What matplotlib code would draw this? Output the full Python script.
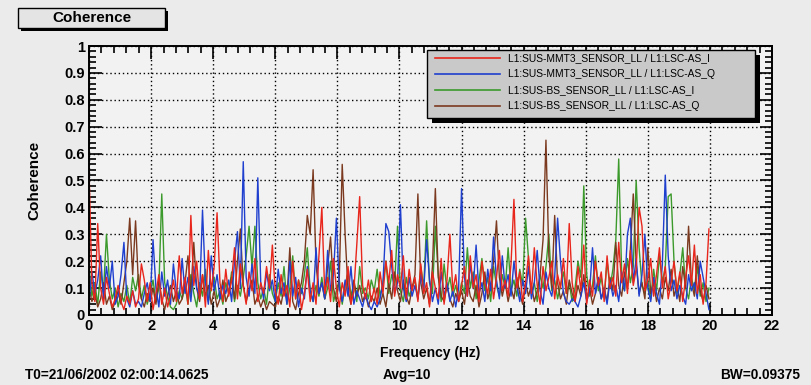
import numpy as np
import matplotlib.pyplot as plt
from matplotlib.patches import Rectangle
from matplotlib.lines import Line2D
from matplotlib.ticker import MultipleLocator

plt.rcParams['font.family'] = ['Liberation Sans', 'DejaVu Sans']

# frequency resolution of the coherence estimate
bw = 0.09375
n_bins = 214

labels = ['L1:SUS-MMT3_SENSOR_LL / L1:LSC-AS_I',
          'L1:SUS-MMT3_SENSOR_LL / L1:LSC-AS_Q',
          'L1:SUS-BS_SENSOR_LL / L1:LSC-AS_I',
          'L1:SUS-BS_SENSOR_LL / L1:LSC-AS_Q']
colors = ['#e8261c', '#1f3fcf', '#3c9a2c', '#7b3a1f']

coh_mmt3_i = [
    0.54, 0.12, 0.05, 0.34, 0.10, 0.04, 0.14, 0.08, 0.03, 0.06, 0.11, 0.05, 0.02, 0.07, 0.04, 0.09,
    0.03, 0.06, 0.19, 0.13, 0.05, 0.12, 0.02, 0.08, 0.15, 0.04, 0.10, 0.03, 0.07, 0.13, 0.05, 0.22,
    0.08, 0.14, 0.04, 0.37, 0.11, 0.20, 0.06, 0.15, 0.03, 0.24, 0.09, 0.18, 0.38, 0.12, 0.05, 0.17,
    0.07, 0.13, 0.25, 0.06, 0.19, 0.11, 0.04, 0.16, 0.09, 0.21, 0.05, 0.12, 0.08, 0.18, 0.10, 0.26,
    0.09, 0.04, 0.15, 0.07, 0.11, 0.03, 0.20, 0.06, 0.13, 0.02, 0.08, 0.17, 0.05, 0.12, 0.04, 0.22,
    0.40, 0.08, 0.14, 0.05, 0.21, 0.10, 0.03, 0.12, 0.07, 0.18, 0.04, 0.09, 0.26, 0.44, 0.11, 0.06,
    0.13, 0.05, 0.10, 0.04, 0.16, 0.08, 0.20, 0.12, 0.24, 0.07, 0.15, 0.10, 0.22, 0.06, 0.17, 0.09,
    0.14, 0.05, 0.19, 0.08, 0.12, 0.03, 0.16, 0.10, 0.06, 0.21, 0.04, 0.13, 0.30, 0.09, 0.15, 0.05,
    0.11, 0.18, 0.07, 0.22, 0.10, 0.15, 0.05, 0.20, 0.12, 0.08, 0.17, 0.06, 0.14, 0.24, 0.09, 0.13,
    0.07, 0.19, 0.43, 0.10, 0.16, 0.05, 0.12, 0.22, 0.08, 0.25, 0.11, 0.04, 0.18, 0.09, 0.14, 0.20,
    0.06, 0.15, 0.10, 0.21, 0.08, 0.34, 0.12, 0.05, 0.18, 0.09, 0.26, 0.04, 0.13, 0.07, 0.20, 0.11,
    0.16, 0.05, 0.22, 0.10, 0.14, 0.07, 0.27, 0.12, 0.19, 0.08, 0.24, 0.11, 0.17, 0.40, 0.33, 0.09,
    0.13, 0.21, 0.07, 0.15, 0.25, 0.10, 0.18, 0.06, 0.12, 0.20, 0.09, 0.16, 0.05, 0.14, 0.22, 0.11,
    0.26, 0.08, 0.15, 0.04, 0.12, 0.32]

coh_mmt3_q = [
    0.05, 0.16, 0.08, 0.13, 0.22, 0.06, 0.18, 0.10, 0.20, 0.04, 0.07, 0.15, 0.27, 0.06, 0.03, 0.09,
    0.04, 0.05, 0.03, 0.08, 0.12, 0.05, 0.28, 0.10, 0.03, 0.16, 0.07, 0.13, 0.04, 0.19, 0.09, 0.06,
    0.21, 0.08, 0.14, 0.05, 0.18, 0.10, 0.07, 0.39, 0.12, 0.04, 0.22, 0.09, 0.15, 0.06, 0.11, 0.08,
    0.13, 0.05, 0.20, 0.31, 0.10, 0.57, 0.14, 0.07, 0.19, 0.08, 0.51, 0.12, 0.06, 0.16, 0.09, 0.13,
    0.05, 0.17, 0.08, 0.12, 0.04, 0.20, 0.07, 0.14, 0.03, 0.10, 0.06, 0.18, 0.09, 0.05, 0.25, 0.08,
    0.12, 0.06, 0.24, 0.09, 0.15, 0.36, 0.10, 0.05, 0.13, 0.07, 0.18, 0.04, 0.09, 0.06, 0.03, 0.08,
    0.04, 0.02, 0.05, 0.03, 0.06, 0.12, 0.34, 0.31, 0.18, 0.08, 0.12, 0.41, 0.10, 0.05, 0.14, 0.07,
    0.11, 0.06, 0.15, 0.09, 0.28, 0.13, 0.05, 0.10, 0.04, 0.16, 0.07, 0.12, 0.05, 0.09, 0.03, 0.10,
    0.47, 0.14, 0.07, 0.19, 0.10, 0.26, 0.08, 0.12, 0.05, 0.17, 0.09, 0.29, 0.13, 0.06, 0.22, 0.10,
    0.15, 0.07, 0.20, 0.11, 0.05, 0.13, 0.08, 0.18, 0.06, 0.12, 0.24, 0.09, 0.04, 0.16, 0.10, 0.07,
    0.14, 0.36, 0.20, 0.08, 0.05, 0.04, 0.06, 0.05, 0.03, 0.07, 0.12, 0.05, 0.09, 0.25, 0.08, 0.14,
    0.06, 0.10, 0.04, 0.13, 0.07, 0.11, 0.05, 0.16, 0.09, 0.30, 0.36, 0.12, 0.21, 0.07, 0.15, 0.30,
    0.10, 0.05, 0.14, 0.08, 0.04, 0.19, 0.52, 0.22, 0.09, 0.13, 0.06, 0.11, 0.07, 0.04, 0.15, 0.09,
    0.12, 0.06, 0.20, 0.14, 0.08, 0.02]

coh_bs_i = [
    0.18, 0.07, 0.12, 0.04, 0.16, 0.09, 0.30, 0.13, 0.06, 0.10, 0.03, 0.08, 0.05, 0.11, 0.04, 0.14,
    0.09, 0.15, 0.06, 0.11, 0.04, 0.08, 0.13, 0.05, 0.10, 0.45, 0.12, 0.07, 0.03, 0.02, 0.04, 0.09,
    0.06, 0.11, 0.04, 0.15, 0.08, 0.03, 0.12, 0.07, 0.17, 0.05, 0.10, 0.14, 0.06, 0.09, 0.04, 0.12,
    0.08, 0.16, 0.05, 0.11, 0.07, 0.14, 0.22, 0.33, 0.18, 0.33, 0.12, 0.06, 0.10, 0.04, 0.15, 0.08,
    0.05, 0.12, 0.07, 0.18, 0.04, 0.10, 0.22, 0.06, 0.13, 0.08, 0.15, 0.25, 0.09, 0.05, 0.11, 0.07,
    0.14, 0.06, 0.10, 0.20, 0.05, 0.09, 0.13, 0.04, 0.11, 0.16, 0.07, 0.12, 0.05, 0.18, 0.08, 0.10,
    0.06, 0.13, 0.09, 0.17, 0.07, 0.12, 0.20, 0.08, 0.15, 0.11, 0.33, 0.09, 0.05, 0.14, 0.07, 0.10,
    0.13, 0.06, 0.18, 0.10, 0.35, 0.12, 0.08, 0.33, 0.15, 0.05, 0.19, 0.09, 0.14, 0.07, 0.11, 0.06,
    0.12, 0.08, 0.25, 0.10, 0.16, 0.06, 0.13, 0.21, 0.09, 0.14, 0.05, 0.18, 0.11, 0.07, 0.15, 0.10,
    0.25, 0.09, 0.13, 0.07, 0.17, 0.11, 0.36, 0.21, 0.08, 0.12, 0.05, 0.15, 0.10, 0.18, 0.30, 0.09,
    0.13, 0.06, 0.11, 0.16, 0.08, 0.12, 0.05, 0.10, 0.20, 0.14, 0.48, 0.15, 0.07, 0.11, 0.22, 0.09,
    0.14, 0.07, 0.20, 0.10, 0.17, 0.28, 0.58, 0.16, 0.09, 0.21, 0.12, 0.18, 0.50, 0.25, 0.11, 0.08,
    0.13, 0.06, 0.17, 0.09, 0.22, 0.12, 0.18, 0.44, 0.45, 0.20, 0.08, 0.15, 0.25, 0.10, 0.06, 0.14,
    0.09, 0.18, 0.07, 0.12, 0.05, 0.10]

coh_bs_q = [
    0.10, 0.05, 0.08, 0.03, 0.06, 0.12, 0.04, 0.07, 0.02, 0.05, 0.09, 0.04, 0.12, 0.20, 0.36, 0.15,
    0.35, 0.11, 0.06, 0.03, 0.08, 0.05, 0.10, 0.04, 0.13, 0.06, 0.02, 0.07, 0.11, 0.05, 0.09, 0.04,
    0.06, 0.12, 0.22, 0.08, 0.27, 0.10, 0.05, 0.15, 0.07, 0.11, 0.04, 0.09, 0.03, 0.06, 0.13, 0.05,
    0.08, 0.14, 0.06, 0.20, 0.32, 0.11, 0.05, 0.09, 0.13, 0.04, 0.07, 0.03, 0.06, 0.02, 0.05, 0.04,
    0.03, 0.07, 0.04, 0.10, 0.06, 0.25, 0.05, 0.02, 0.08, 0.12, 0.20, 0.37, 0.30, 0.54, 0.19, 0.08,
    0.12, 0.06, 0.18, 0.29, 0.10, 0.05, 0.14, 0.56, 0.30, 0.09, 0.04, 0.13, 0.07, 0.11, 0.05, 0.08,
    0.03, 0.07, 0.05, 0.10, 0.04, 0.08, 0.03, 0.12, 0.06, 0.16, 0.09, 0.05, 0.13, 0.07, 0.04, 0.10,
    0.15, 0.45, 0.12, 0.06, 0.10, 0.04, 0.18, 0.47, 0.14, 0.07, 0.05, 0.11, 0.06, 0.03, 0.08, 0.05,
    0.09, 0.04, 0.13, 0.07, 0.05, 0.11, 0.03, 0.08, 0.16, 0.06, 0.10, 0.20, 0.35, 0.14, 0.07, 0.12,
    0.05, 0.10, 0.06, 0.14, 0.08, 0.04, 0.12, 0.07, 0.11, 0.05, 0.09, 0.15, 0.28, 0.65, 0.22, 0.10,
    0.37, 0.12, 0.06, 0.09, 0.04, 0.13, 0.08, 0.05, 0.11, 0.07, 0.15, 0.06, 0.10, 0.04, 0.08, 0.13,
    0.06, 0.10, 0.05, 0.14, 0.09, 0.27, 0.11, 0.07, 0.16, 0.10, 0.24, 0.45, 0.19, 0.08, 0.12, 0.06,
    0.25, 0.08, 0.12, 0.05, 0.10, 0.06, 0.14, 0.09, 0.17, 0.07, 0.11, 0.05, 0.18, 0.10, 0.33, 0.12,
    0.07, 0.22, 0.09, 0.05, 0.11, 0.06]

freq = np.arange(n_bins) * bw
series = [coh_mmt3_i, coh_mmt3_q, coh_bs_i, coh_bs_q]

fig = plt.figure(figsize=(8.12, 3.85), dpi=100, facecolor='#ebebeb')
ax = fig.add_axes([89 / 812, 70 / 385, 683 / 812, 269 / 385])
ax.set_facecolor('#f2f2f2')

for order in [2, 3, 1, 0]:
    ax.plot(freq, series[order], color=colors[order], lw=1.0)

ax.set_xlim(0, 22)
ax.set_ylim(0, 1)
ax.xaxis.set_major_locator(MultipleLocator(2))
ax.xaxis.set_minor_locator(MultipleLocator(0.4))
ax.yaxis.set_major_locator(MultipleLocator(0.1))
ax.yaxis.set_minor_locator(MultipleLocator(0.02))
ax.set_yticklabels([('%g' % v) for v in ax.get_yticks()])
ax.tick_params(which='both', direction='in', top=True, right=True, width=1.2)
ax.tick_params(which='major', length=9, labelsize=10.5, pad=3)
ax.tick_params(which='minor', length=5)
for lbl in ax.get_xticklabels() + ax.get_yticklabels():
    lbl.set_fontweight('bold')
for sp in ax.spines.values():
    sp.set_linewidth(1.4)
ax.grid(True, which='major', color='black', linestyle=(0, (1, 2)), linewidth=1.0)

ax.set_xlabel('Frequency (Hz)', fontsize=10, fontweight='bold')
ax.xaxis.set_label_coords(0.5, -0.115)
ax.set_ylabel('Coherence', fontsize=11, fontweight='bold')
ax.yaxis.set_label_coords(-0.07, 0.5)

W, H = 812.0, 385.0

# title box with drop shadow
fig.add_artist(Rectangle((21 / W, 1 - 31 / H), 147 / W, 20 / H, transform=fig.transFigure,
                         facecolor='black', edgecolor='none'))
fig.add_artist(Rectangle((18 / W, 1 - 28 / H), 147 / W, 20 / H, transform=fig.transFigure,
                         facecolor='#e4e4e4', edgecolor='black', lw=1.0))
fig.text(92 / W, 1 - 18 / H, 'Coherence', ha='center', va='center',
         fontsize=11, fontweight='bold')

# legend box
fig.add_artist(Rectangle((432 / W, 1 - 123 / H), 328 / W, 68 / H, transform=fig.transFigure,
                         facecolor='black', edgecolor='none', zorder=5))
fig.add_artist(Rectangle((427 / W, 1 - 118 / H), 328 / W, 68 / H, transform=fig.transFigure,
                         facecolor='#c9c9c9', edgecolor='black', lw=1.0, zorder=6))
for i, (lab, col) in enumerate(zip(labels, colors)):
    yy = 1 - (58 + 16 * i) / H
    fig.add_artist(Line2D([435 / W, 500 / W], [yy, yy], transform=fig.transFigure,
                          color=col, lw=1.2, zorder=7))
    fig.text(508 / W, yy, lab, ha='left', va='center', fontsize=7.4, zorder=7)

# acquisition parameters along the bottom
fig.text(25 / W, 1 - 375 / H, 'T0=21/06/2002 02:00:14.0625', ha='left', va='center',
         fontsize=9.8, fontweight='bold')
fig.text(407 / W, 1 - 375 / H, 'Avg=10', ha='center', va='center',
         fontsize=9.8, fontweight='bold')
fig.text(800 / W, 1 - 375 / H, 'BW=0.09375', ha='right', va='center',
         fontsize=9.8, fontweight='bold')

fig.savefig('out.png', dpi=100, facecolor=fig.get_facecolor())
